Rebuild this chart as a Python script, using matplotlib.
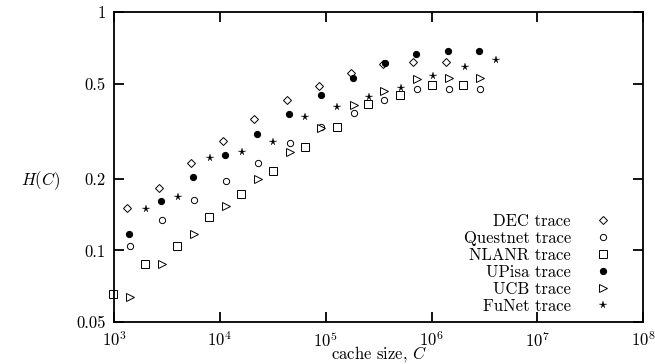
import matplotlib
matplotlib.use('Agg')
import matplotlib.pyplot as plt
from matplotlib.ticker import LogLocator, NullLocator, FixedLocator, FixedFormatter

plt.rcParams['font.family'] = 'serif'
plt.rcParams['font.serif'] = ['cmr10']
plt.rcParams['mathtext.fontset'] = 'cm'
plt.rcParams['axes.formatter.use_mathtext'] = True

# cache sizes and hit rates
dec_x = [1327, 2663, 5343, 10720, 21050, 43180, 86610, 173900, 348700, 670100, 1374000]
dec_y = [0.1505, 0.1826, 0.2324, 0.2875, 0.3556, 0.4272, 0.4891, 0.5546, 0.6049, 0.6167, 0.6167]

quest_x = [1416, 2843, 5704, 11450, 22970, 46080, 90500, 185500, 356500, 731000, 1467000, 2880000]
quest_y = [0.1042, 0.1340, 0.1626, 0.1953, 0.2324, 0.2820, 0.3292, 0.3769, 0.4272, 0.4752, 0.4752, 0.4752]

nlanr_x = [979, 1963, 3940, 7906, 15860, 31830, 63870, 128200, 251600, 505000, 1013000, 1989000]
nlanr_y = [0.0656, 0.0876, 0.1045, 0.1379, 0.1723, 0.2152, 0.2714, 0.3292, 0.4111, 0.4484, 0.4939, 0.4939]

upisa_x = [1386, 2782, 5580, 11200, 22470, 45100, 90500, 181600, 360000, 715000, 1435000, 2818000]
upisa_y = [0.1171, 0.1610, 0.2031, 0.2511, 0.3076, 0.3733, 0.4484, 0.5285, 0.6109, 0.6664, 0.6861, 0.6861]

ucb_x = quest_x
ucb_y = [0.0637, 0.0876, 0.1171, 0.1534, 0.1991, 0.2586, 0.3260, 0.4072, 0.4661, 0.5235, 0.5285, 0.5285]

funet_x = [2007, 4026, 8081, 16210, 31830, 63870, 128200, 257200, 516100, 1035000, 2078000, 4079000]
funet_y = [0.1491, 0.1674, 0.2439, 0.2586, 0.2847, 0.3626, 0.3994, 0.4398, 0.4798, 0.5389, 0.5876, 0.6287]

fig = plt.figure(figsize=(6.55, 3.64), dpi=100)
ax = fig.add_axes([0.174, 0.115, 0.808, 0.852])

mew = 0.7
kw = dict(ls='none', mec='black', clip_on=False)
ax.plot(dec_x, dec_y, marker='D', ms=4.3, mfc='white', mew=mew, label='DEC trace', **kw)
ax.plot(quest_x, quest_y, marker='o', ms=4.5, mfc='white', mew=mew, label='Questnet trace', **kw)
ax.plot(nlanr_x, nlanr_y, marker='s', ms=6, mfc='white', mew=mew, label='NLANR trace', **kw)
ax.plot(upisa_x, upisa_y, marker='o', ms=4.5, mfc='black', mew=mew, label='UPisa trace', **kw)
ax.plot(ucb_x, ucb_y, marker='>', ms=6, mfc='white', mew=mew, label='UCB trace', **kw)
ax.plot(funet_x, funet_y, marker='*', ms=5.5, mfc='black', mew=0.2, label='FuNet trace', **kw)

ax.set_xscale('log')
ax.set_yscale('log')
ax.set_xlim(1e3, 1e8)
ax.set_ylim(0.05, 1)

ax.xaxis.set_major_locator(LogLocator(base=10, numticks=10))
ax.xaxis.set_minor_locator(NullLocator())
yt = [0.05, 0.1, 0.2, 0.5, 1]
ax.yaxis.set_major_locator(FixedLocator(yt))
ax.yaxis.set_major_formatter(FixedFormatter(['0.05', '0.1', '0.2', '0.5', '1']))
ax.yaxis.set_minor_locator(NullLocator())

ax.tick_params(which='major', direction='in', length=7, width=1.3, top=True, right=True,
               labelsize=12, pad=6)
for s in ax.spines.values():
    s.set_linewidth(1.3)

ax.set_xlabel('cache size, $C$', fontsize=12, labelpad=-4)
fig.text(0.062, 0.505, '$H(C)$', fontsize=12, ha='center', va='center')

ax.legend(loc='lower right', bbox_to_anchor=(0.958, 0.0), frameon=False, markerfirst=False,
          fontsize=12, handlelength=1.2, handletextpad=1.3, labelspacing=0.1,
          borderpad=0, alignment='right')

fig.savefig('out.png', dpi=100)
